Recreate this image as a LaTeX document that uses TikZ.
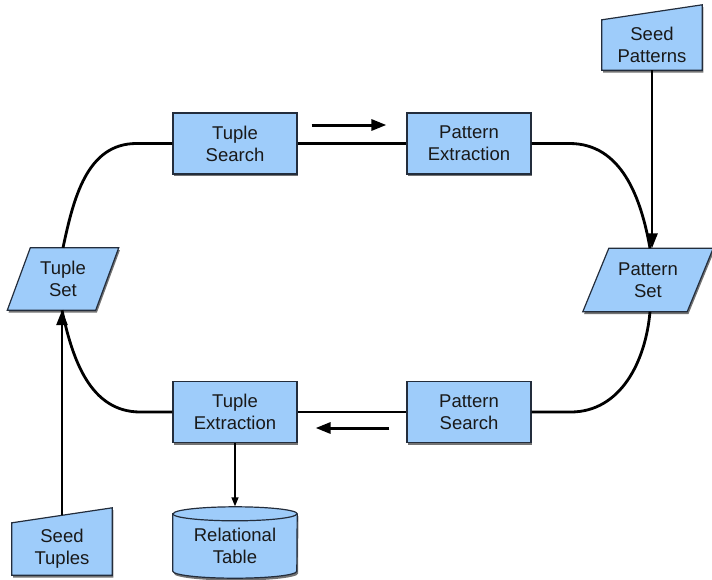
\documentclass[tikz,border=0pt]{standalone}
\usepackage{fontspec}
\setmainfont{Liberation Sans}
\usetikzlibrary{shadows,arrows.meta,calc,backgrounds}
\definecolor{boxblue}{RGB}{158,204,250}
\definecolor{edgecol}{RGB}{35,45,60}
\begin{document}
\begin{tikzpicture}[x=1pt,y=1pt,
  every node/.style={font=\fontsize{18.5}{22}\selectfont, text=black!90, align=center},
  mysh/.style={drop shadow={shadow xshift=1.2pt, shadow yshift=-2.4pt, fill=black, opacity=0.55}},
  procbox/.style={rectangle, draw=edgecol, line width=1.2pt, fill=boxblue, minimum width=124pt, minimum height=61pt, mysh},
  holder/.style={rectangle, inner sep=0pt},
  shapefill/.style={draw=edgecol, line width=1.2pt, fill=boxblue, mysh},
  flow/.style={line width=2.8pt, black},
  tip/.style={-{Triangle[length=15pt,width=11pt]}},
  thinflow/.style={line width=1.5pt, black, -{Triangle[length=9pt,width=7pt]}},
]
\useasboundingbox (0,0) rectangle (712,-579);

% process boxes
\node[procbox] (tsearch) at (235,-143.5) {Tuple\\Search};
\node[procbox] (pext) at (469,-143.5) {Pattern\\Extraction};
\node[procbox] (tex) at (235,-412) {Tuple\\Extraction};
\node[procbox] (psearch) at (469,-412) {Pattern\\Search};

% data shapes (holders carry the text)
\node[holder, minimum width=88pt, minimum height=62pt] (ts) at (63,-279) {Tuple\\Set};
\node[holder, minimum width=104pt, minimum height=63pt] (ps) at (648,-280) {Pattern\\Set};
\node[holder, minimum width=100pt, minimum height=50pt] (sp) at (652,-45) {Seed\\Patterns};
\node[holder, minimum width=100pt, minimum height=52pt] (st) at (62,-549) {Seed\\Tuples};
\node[holder, minimum width=124pt, minimum height=64pt] (rt) at (235,-546) {Relational\\Table};

\begin{scope}[on background layer]
  % Tuple Set parallelogram
  \draw[shapefill] ($(ts.north west)+(11.5,0)$) -- ($(ts.north east)+(11.5,0)$)
     -- ($(ts.south east)+(-11.5,0)$) -- ($(ts.south west)+(-11.5,0)$) -- cycle;
  % Pattern Set parallelogram
  \draw[shapefill] ($(ps.north west)+(13,0)$) -- ($(ps.north east)+(13,0)$)
     -- ($(ps.south east)+(-13,0)$) -- ($(ps.south west)+(-13,0)$) -- cycle;
  % Seed Patterns manual input
  \draw[shapefill] (sp.north west) -- ($(sp.north east)+(0,15)$) -- (sp.south east) -- (sp.south west) -- cycle;
  % Seed Tuples manual input
  \draw[shapefill] (st.north west) -- ($(st.north east)+(0,15)$) -- (st.south east) -- (st.south west) -- cycle;
  % Relational Table cylinder
  \draw[shapefill] (rt.north west) -- ($(rt.south west)+(0,7)$)
     arc[start angle=180, end angle=360, x radius=62, y radius=7]
     -- (rt.north east)
     arc[start angle=0, end angle=180, x radius=62, y radius=7] -- cycle;
  \draw[draw=edgecol, line width=1.2pt] (rt.north west) arc[start angle=180, end angle=360, x radius=62, y radius=7];
\end{scope}

% cycle connectors
\draw[flow] (tsearch.east) -- (pext.west);
\draw[flow] (psearch.west) -- (tex.east);
\draw[flow] (ts.north) to[out=78, in=180] ($(tsearch.west)+(-36,0)$) -- (tsearch.west);
\draw[flow] (pext.east) -- ++(38,0) to[out=0, in=100] ($(sp.south |- ps.north)+(-2,0)$);
\draw[flow] ($(ps.south)+(2,0)$) to[out=-95, in=0] ($(psearch.east)+(39,0)$) -- (psearch.east);
\draw[flow] (tex.west) -- ++(-32,0) to[out=180, in=-78] (st.north |- ts.south);

% seed arrows
\draw[flow, tip] (sp.south) -- (sp.south |- ps.north);
\draw[flow, tip] ($(st.north)+(0,7.5)$) -- (st.north |- ts.south);

% direction arrows
\draw[flow, line width=3pt, tip] ($(tsearch.east)+(14,18.5)$) -- ($(pext.west)+(-20,18.5)$);
\draw[flow, line width=3pt, tip] ($(psearch.west)+(-17,-16)$) -- ($(tex.east)+(18,-16)$);

% output to table
\draw[thinflow] (tex.south) -- ($(rt.north)+(0,7.5)$);
\end{tikzpicture}
\end{document}
